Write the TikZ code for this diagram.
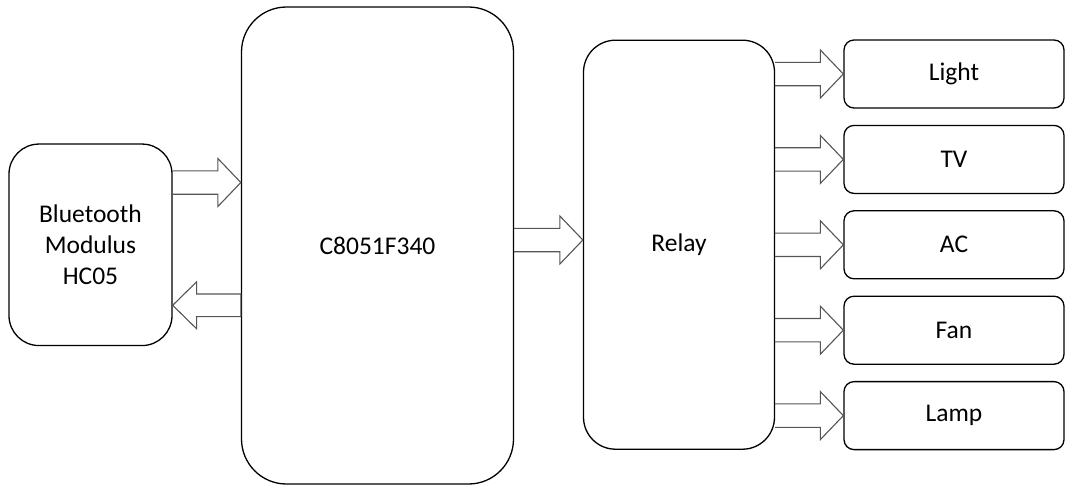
\documentclass[tikz,border=0pt]{standalone}
\usepackage{fontspec}
\setmainfont{Carlito}
\usetikzlibrary{calc}
\definecolor{arrowgray}{RGB}{85,85,85}
\tikzset{
  box/.style={draw=black, line width=1.3pt, inner sep=0pt, align=center,
    font=\fontsize{25.5}{31}\selectfont},
  barrow/.style={draw=arrowgray, line width=1.1pt, line join=miter},
}
% right-pointing block arrow from east of #1 to west of #2 at height #3
\newcommand\blkR[3]{%
  \draw[barrow] ($(#1.east |- 0,#3)+(0,-11.7)$) -- ($(#2.west |- 0,#3)+(-23,-11.7)$)
    -- ($(#2.west |- 0,#3)+(-23,-24)$) -- (#2.west |- 0,#3)
    -- ($(#2.west |- 0,#3)+(-23,24)$) -- ($(#2.west |- 0,#3)+(-23,11.7)$)
    -- ($(#1.east |- 0,#3)+(0,11.7)$);}
% left-pointing block arrow from west of #1 to east of #2 at height #3
\newcommand\blkL[3]{%
  \draw[barrow] ($(#1.west |- 0,#3)+(0,-11.3)$) -- ($(#2.east |- 0,#3)+(24,-11.3)$)
    -- ($(#2.east |- 0,#3)+(24,-23.5)$) -- (#2.east |- 0,#3)
    -- ($(#2.east |- 0,#3)+(24,23.5)$) -- ($(#2.east |- 0,#3)+(24,11.3)$)
    -- ($(#1.west |- 0,#3)+(0,11.3)$) -- cycle;}
\begin{document}
\begin{tikzpicture}[x=1pt, y=-1pt]
\useasboundingbox (0,0) rectangle (1075,491);
\node[box, rounded corners=30pt, minimum width=163pt, minimum height=201.5pt] (bt) at (90.5,244.8) {Bluetooth\\Modulus\\HC05};
\node[box, rounded corners=45pt, minimum width=272pt, minimum height=477pt] (mcu) at (377.5,245.5) {C8051F340};
\node[box, rounded corners=32pt, minimum width=191pt, minimum height=409pt] (relay) at (679,244.7) {Relay};
\node[box, rounded corners=10pt, minimum width=220pt, minimum height=68pt] (light) at (954,74) {Light};
\node[box, rounded corners=10pt, minimum width=220pt, minimum height=68pt] (tv) at (954,159.4) {TV};
\node[box, rounded corners=10pt, minimum width=220pt, minimum height=68pt] (ac) at (954,244.8) {AC};
\node[box, rounded corners=10pt, minimum width=220pt, minimum height=68pt] (fan) at (954,330.2) {Fan};
\node[box, rounded corners=10pt, minimum width=220pt, minimum height=68pt] (lamp) at (954,415.6) {Lamp};
\blkR{bt}{mcu}{182.5}
\blkL{mcu}{bt}{305.3}
\blkR{mcu}{relay}{240}
\blkR{relay}{light}{74}
\blkR{relay}{tv}{159.4}
\blkR{relay}{ac}{244.8}
\blkR{relay}{fan}{330.2}
\blkR{relay}{lamp}{415.6}
\end{tikzpicture}
\end{document}
